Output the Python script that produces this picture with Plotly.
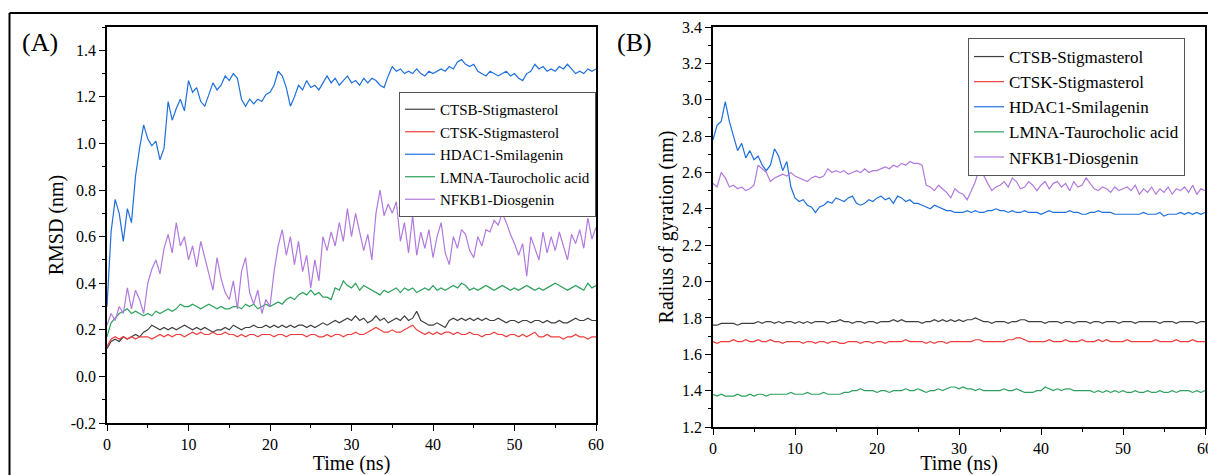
import numpy as np
import plotly.graph_objects as go

# time axis, 0.5 ns sampling
time_ns = np.arange(0, 60.5, 0.5)

names = ["CTSB-Stigmasterol", "CTSK-Stigmasterol", "HDAC1-Smilagenin",
         "LMNA-Taurocholic acid", "NFKB1-Diosgenin"]
colors = ["#3f3f3f", "#f03c3c", "#1f6fdc", "#2ca05c", "#b279de"]

# tick labels
rmsd_ticks = [-0.2, 0.0, 0.2, 0.4, 0.6, 0.8, 1.0, 1.2, 1.4]
rmsd_ticklabels = ["-0.2", "0.0", "0.2", "0.4", "0.6", "0.8", "1.0", "1.2", "1.4"]
time_ticks = [0, 10, 20, 30, 40, 50, 60]

# ---- RMSD (nm), panel A ----
ctsb_rmsd = [0.12, 0.15, 0.16, 0.15, 0.17, 0.16, 0.17, 0.18, 0.17, 0.19,
             0.20, 0.22, 0.21, 0.20, 0.21, 0.20, 0.21, 0.20, 0.21, 0.22,
             0.21, 0.20, 0.21, 0.20, 0.21, 0.20, 0.19, 0.20, 0.20, 0.21,
             0.20, 0.22, 0.21, 0.20, 0.21, 0.21, 0.22, 0.21, 0.21, 0.22,
             0.21, 0.22, 0.21, 0.22, 0.21, 0.22, 0.21, 0.22, 0.22, 0.21,
             0.22, 0.21, 0.22, 0.23, 0.22, 0.23, 0.24, 0.23, 0.24, 0.25,
             0.24, 0.26, 0.24, 0.25, 0.23, 0.24, 0.26, 0.24, 0.25, 0.23,
             0.24, 0.25, 0.24, 0.26, 0.24, 0.25, 0.28, 0.24, 0.23, 0.22,
             0.22, 0.23, 0.22, 0.21, 0.24, 0.25, 0.24, 0.25, 0.24, 0.25,
             0.24, 0.25, 0.24, 0.25, 0.24, 0.24, 0.25, 0.24, 0.23, 0.24,
             0.24, 0.23, 0.24, 0.24, 0.23, 0.24, 0.24, 0.23, 0.24, 0.23,
             0.23, 0.24, 0.23, 0.23, 0.24, 0.25, 0.24, 0.24, 0.25, 0.24,
             0.24]
ctsk_rmsd = [0.13, 0.16, 0.17, 0.16, 0.17, 0.16, 0.17, 0.16, 0.17, 0.17,
             0.17, 0.16, 0.17, 0.18, 0.17, 0.18, 0.17, 0.18, 0.18, 0.17,
             0.18, 0.19, 0.18, 0.19, 0.18, 0.18, 0.19, 0.18, 0.18, 0.19,
             0.18, 0.18, 0.17, 0.18, 0.17, 0.18, 0.18, 0.17, 0.18, 0.18,
             0.18, 0.17, 0.18, 0.18, 0.17, 0.18, 0.18, 0.18, 0.18, 0.17,
             0.18, 0.18, 0.17, 0.17, 0.18, 0.17, 0.18, 0.18, 0.17, 0.18,
             0.18, 0.19, 0.18, 0.18, 0.19, 0.20, 0.21, 0.20, 0.19, 0.19,
             0.20, 0.19, 0.19, 0.20, 0.21, 0.22, 0.20, 0.19, 0.18, 0.19,
             0.18, 0.19, 0.18, 0.19, 0.19, 0.18, 0.19, 0.18, 0.18, 0.19,
             0.18, 0.18, 0.17, 0.18, 0.18, 0.19, 0.18, 0.18, 0.17, 0.18,
             0.18, 0.17, 0.18, 0.17, 0.18, 0.19, 0.17, 0.17, 0.18, 0.17,
             0.17, 0.17, 0.16, 0.17, 0.17, 0.18, 0.17, 0.17, 0.16, 0.17,
             0.17]
hdac1_rmsd = [0.30, 0.62, 0.76, 0.70, 0.58, 0.72, 0.66, 0.86, 0.98, 1.08,
              1.02, 0.99, 1.01, 0.93, 0.98, 1.18, 1.10, 1.15, 1.19, 1.14,
              1.27, 1.22, 1.24, 1.18, 1.16, 1.21, 1.26, 1.23, 1.25, 1.29,
              1.27, 1.30, 1.28, 1.19, 1.16, 1.19, 1.17, 1.19, 1.18, 1.21,
              1.22, 1.25, 1.31, 1.29, 1.24, 1.16, 1.20, 1.25, 1.23, 1.27,
              1.24, 1.25, 1.23, 1.26, 1.29, 1.26, 1.28, 1.25, 1.27, 1.29,
              1.26, 1.27, 1.25, 1.28, 1.26, 1.28, 1.27, 1.25, 1.24, 1.29,
              1.33, 1.31, 1.32, 1.30, 1.31, 1.30, 1.32, 1.30, 1.29, 1.31,
              1.30, 1.31, 1.32, 1.31, 1.33, 1.32, 1.35, 1.36, 1.34, 1.33,
              1.34, 1.31, 1.30, 1.29, 1.31, 1.30, 1.29, 1.30, 1.31, 1.29,
              1.30, 1.28, 1.27, 1.30, 1.31, 1.34, 1.32, 1.33, 1.31, 1.32,
              1.31, 1.33, 1.32, 1.34, 1.32, 1.30, 1.31, 1.30, 1.32, 1.31,
              1.32]
lmna_rmsd = [0.17, 0.23, 0.25, 0.27, 0.28, 0.29, 0.27, 0.28, 0.27, 0.26,
             0.27, 0.26, 0.28, 0.27, 0.28, 0.29, 0.28, 0.29, 0.31, 0.30,
             0.30, 0.31, 0.30, 0.29, 0.30, 0.31, 0.30, 0.29, 0.30, 0.29,
             0.29, 0.30, 0.30, 0.29, 0.31, 0.30, 0.31, 0.29, 0.30, 0.31,
             0.30, 0.31, 0.32, 0.31, 0.33, 0.34, 0.33, 0.35, 0.36, 0.35,
             0.37, 0.35, 0.36, 0.34, 0.34, 0.33, 0.38, 0.37, 0.41, 0.39,
             0.38, 0.40, 0.37, 0.39, 0.38, 0.37, 0.36, 0.35, 0.37, 0.36,
             0.37, 0.38, 0.36, 0.38, 0.37, 0.38, 0.36, 0.37, 0.38, 0.37,
             0.39, 0.37, 0.38, 0.37, 0.38, 0.39, 0.38, 0.40, 0.39, 0.37,
             0.38, 0.37, 0.38, 0.39, 0.38, 0.37, 0.38, 0.39, 0.38, 0.37,
             0.38, 0.37, 0.38, 0.39, 0.38, 0.37, 0.38, 0.37, 0.38, 0.39,
             0.40, 0.39, 0.38, 0.37, 0.38, 0.39, 0.38, 0.37, 0.40, 0.38,
             0.39]
nfkb1_rmsd = [0.22, 0.27, 0.24, 0.30, 0.27, 0.38, 0.29, 0.37, 0.33, 0.27,
              0.40, 0.46, 0.50, 0.44, 0.55, 0.61, 0.53, 0.66, 0.56, 0.60,
              0.50, 0.56, 0.47, 0.58, 0.51, 0.44, 0.37, 0.51, 0.42, 0.36,
              0.33, 0.41, 0.29, 0.45, 0.51, 0.36, 0.31, 0.37, 0.27, 0.33,
              0.30, 0.45, 0.56, 0.63, 0.52, 0.60, 0.48, 0.58, 0.45, 0.52,
              0.38, 0.50, 0.41, 0.60, 0.54, 0.62, 0.56, 0.66, 0.58, 0.72,
              0.60, 0.70, 0.62, 0.54, 0.61, 0.50, 0.70, 0.80, 0.69, 0.74,
              0.70, 0.75, 0.58, 0.66, 0.53, 0.69, 0.52, 0.62, 0.55, 0.63,
              0.51, 0.60, 0.66, 0.53, 0.48, 0.60, 0.55, 0.63, 0.61, 0.54,
              0.51, 0.60, 0.56, 0.63, 0.62, 0.67, 0.65, 0.70, 0.66, 0.61,
              0.57, 0.52, 0.57, 0.43, 0.60, 0.55, 0.50, 0.62, 0.53, 0.60,
              0.54, 0.62, 0.56, 0.50, 0.61, 0.57, 0.63, 0.55, 0.68, 0.59,
              0.64]

# ---- Radius of gyration (nm), panel B ----
ctsb_rg = [1.76, 1.76, 1.77, 1.77, 1.77, 1.77, 1.76, 1.77, 1.77, 1.77,
           1.77, 1.78, 1.77, 1.78, 1.78, 1.77, 1.78, 1.77, 1.78, 1.78,
           1.77, 1.78, 1.77, 1.78, 1.77, 1.78, 1.78, 1.78, 1.77, 1.78,
           1.78, 1.79, 1.78, 1.78, 1.77, 1.78, 1.78, 1.77, 1.78, 1.78,
           1.77, 1.78, 1.78, 1.78, 1.79, 1.78, 1.79, 1.78, 1.78, 1.78,
           1.78, 1.77, 1.78, 1.78, 1.79, 1.78, 1.79, 1.78, 1.79, 1.78,
           1.79, 1.78, 1.79, 1.79, 1.80, 1.79, 1.78, 1.78, 1.77, 1.78,
           1.78, 1.78, 1.77, 1.78, 1.78, 1.79, 1.79, 1.78, 1.78, 1.78,
           1.78, 1.77, 1.78, 1.78, 1.78, 1.77, 1.78, 1.78, 1.77, 1.78,
           1.78, 1.78, 1.77, 1.78, 1.78, 1.77, 1.78, 1.78, 1.78, 1.77,
           1.78, 1.78, 1.78, 1.77, 1.78, 1.78, 1.78, 1.78, 1.78, 1.77,
           1.78, 1.78, 1.78, 1.77, 1.78, 1.78, 1.78, 1.78, 1.77, 1.78,
           1.78]
ctsk_rg = [1.67, 1.66, 1.67, 1.67, 1.67, 1.68, 1.67, 1.67, 1.68, 1.67,
           1.67, 1.68, 1.67, 1.67, 1.68, 1.67, 1.67, 1.66, 1.67, 1.67,
           1.67, 1.67, 1.66, 1.67, 1.67, 1.66, 1.67, 1.67, 1.66, 1.67,
           1.67, 1.66, 1.66, 1.67, 1.67, 1.67, 1.66, 1.67, 1.67, 1.66,
           1.67, 1.67, 1.66, 1.67, 1.67, 1.67, 1.67, 1.68, 1.67, 1.67,
           1.67, 1.67, 1.66, 1.67, 1.66, 1.67, 1.67, 1.66, 1.67, 1.67,
           1.67, 1.67, 1.67, 1.67, 1.68, 1.68, 1.67, 1.67, 1.67, 1.67,
           1.67, 1.67, 1.68, 1.68, 1.69, 1.69, 1.68, 1.67, 1.67, 1.67,
           1.67, 1.67, 1.68, 1.67, 1.67, 1.67, 1.68, 1.67, 1.67, 1.67,
           1.68, 1.67, 1.67, 1.67, 1.68, 1.67, 1.68, 1.67, 1.67, 1.67,
           1.67, 1.68, 1.67, 1.67, 1.67, 1.67, 1.67, 1.67, 1.68, 1.67,
           1.67, 1.67, 1.67, 1.68, 1.67, 1.67, 1.67, 1.68, 1.67, 1.67,
           1.67]
hdac1_rg = [2.78, 2.86, 2.88, 2.99, 2.88, 2.80, 2.72, 2.76, 2.68, 2.72,
            2.67, 2.69, 2.64, 2.61, 2.64, 2.73, 2.69, 2.61, 2.66, 2.52,
            2.46, 2.44, 2.45, 2.42, 2.41, 2.38, 2.41, 2.42, 2.44, 2.43,
            2.46, 2.45, 2.44, 2.46, 2.47, 2.43, 2.42, 2.43, 2.45, 2.44,
            2.46, 2.47, 2.45, 2.46, 2.43, 2.47, 2.46, 2.44, 2.45, 2.43,
            2.43, 2.42, 2.41, 2.40, 2.42, 2.41, 2.40, 2.39, 2.39, 2.38,
            2.38, 2.38, 2.39, 2.38, 2.39, 2.38, 2.38, 2.39, 2.39, 2.40,
            2.39, 2.39, 2.38, 2.39, 2.38, 2.38, 2.39, 2.38, 2.38, 2.38,
            2.37, 2.38, 2.39, 2.38, 2.38, 2.38, 2.38, 2.39, 2.38, 2.38,
            2.37, 2.37, 2.38, 2.38, 2.39, 2.38, 2.38, 2.38, 2.37, 2.37,
            2.37, 2.37, 2.37, 2.37, 2.37, 2.38, 2.37, 2.37, 2.37, 2.38,
            2.36, 2.37, 2.37, 2.37, 2.38, 2.37, 2.38, 2.37, 2.38, 2.37,
            2.38]
lmna_rg = [1.38, 1.37, 1.38, 1.37, 1.37, 1.37, 1.38, 1.37, 1.37, 1.38,
           1.37, 1.38, 1.38, 1.37, 1.38, 1.38, 1.38, 1.38, 1.38, 1.39,
           1.38, 1.38, 1.38, 1.39, 1.38, 1.38, 1.38, 1.39, 1.38, 1.38,
           1.38, 1.38, 1.39, 1.39, 1.40, 1.40, 1.41, 1.40, 1.40, 1.40,
           1.39, 1.40, 1.40, 1.39, 1.40, 1.40, 1.40, 1.41, 1.40, 1.40,
           1.41, 1.40, 1.39, 1.40, 1.40, 1.41, 1.40, 1.41, 1.42, 1.42,
           1.41, 1.42, 1.41, 1.41, 1.40, 1.41, 1.40, 1.40, 1.40, 1.40,
           1.40, 1.41, 1.40, 1.40, 1.41, 1.40, 1.39, 1.39, 1.39, 1.40,
           1.40, 1.42, 1.41, 1.40, 1.41, 1.40, 1.41, 1.41, 1.40, 1.40,
           1.40, 1.40, 1.40, 1.39, 1.40, 1.39, 1.40, 1.39, 1.40, 1.39,
           1.40, 1.39, 1.39, 1.40, 1.39, 1.39, 1.40, 1.39, 1.39, 1.40,
           1.39, 1.39, 1.40, 1.39, 1.40, 1.40, 1.40, 1.39, 1.40, 1.39,
           1.40]
nfkb1_rg = [2.54, 2.52, 2.60, 2.57, 2.52, 2.53, 2.51, 2.52, 2.50, 2.51,
            2.53, 2.64, 2.62, 2.60, 2.55, 2.57, 2.58, 2.59, 2.58, 2.60,
            2.58, 2.57, 2.56, 2.55, 2.57, 2.58, 2.57, 2.58, 2.62, 2.60,
            2.61, 2.60, 2.61, 2.59, 2.60, 2.61, 2.60, 2.62, 2.60, 2.61,
            2.61, 2.62, 2.63, 2.62, 2.64, 2.63, 2.65, 2.64, 2.66, 2.65,
            2.65, 2.64, 2.53, 2.52, 2.50, 2.53, 2.51, 2.49, 2.46, 2.51,
            2.49, 2.48, 2.45, 2.50, 2.55, 2.63, 2.58, 2.54, 2.50, 2.52,
            2.53, 2.55, 2.52, 2.57, 2.55, 2.51, 2.52, 2.55, 2.53, 2.50,
            2.53, 2.55, 2.51, 2.54, 2.55, 2.52, 2.54, 2.50, 2.55, 2.52,
            2.53, 2.57, 2.54, 2.51, 2.50, 2.52, 2.51, 2.49, 2.52, 2.50,
            2.51, 2.52, 2.50, 2.53, 2.48, 2.51, 2.49, 2.52, 2.48, 2.51,
            2.49, 2.52, 2.48, 2.51, 2.50, 2.52, 2.49, 2.53, 2.48, 2.51,
            2.50]

rmsd_series = [ctsb_rmsd, ctsk_rmsd, hdac1_rmsd, lmna_rmsd, nfkb1_rmsd]
rg_series = [ctsb_rg, ctsk_rg, hdac1_rg, lmna_rg, nfkb1_rg]

FONT = "Liberation Serif"
# the page body adds an 8 px margin, so the figure fills the rest of the window
OFF = 8
W, H = 1216 - OFF, 475 - OFF


def px(x):
    return (x - OFF) / W


def py(y):
    return 1 - (y - OFF) / H


fig = go.Figure()

for name, color, ys in zip(names, colors, rmsd_series):
    fig.add_trace(go.Scatter(x=time_ns, y=ys, mode="lines", name=name,
                             line=dict(color=color, width=1.2),
                             xaxis="x", yaxis="y", legend="legend"))

for name, color, ys in zip(names, colors, rg_series):
    fig.add_trace(go.Scatter(x=time_ns, y=ys, mode="lines", name=name,
                             line=dict(color=color, width=1.2),
                             xaxis="x2", yaxis="y2", legend="legend2"))


def axis(**kw):
    d = dict(showline=True, linecolor="black", linewidth=1.5, mirror=True,
             ticks="outside", ticklen=6, tickwidth=1.2, tickcolor="black",
             showgrid=False, zeroline=False,
             tickfont=dict(family=FONT, size=16, color="black"))
    d.update(kw)
    return d


minor_x = dict(ticks="outside", ticklen=3, tickwidth=1, tickcolor="black", dtick=5)
minor_y = dict(ticks="outside", ticklen=3, tickwidth=1, tickcolor="black", dtick=0.1)
title_font = dict(family=FONT, size=20, color="black")

fig.update_layout(
    width=W, height=H,
    margin=dict(l=0, r=0, t=0, b=0, autoexpand=False),
    plot_bgcolor="white", paper_bgcolor="white",
    font=dict(family=FONT, color="black"),
    xaxis=axis(domain=[px(107), px(596)], range=[0, 60], tickvals=time_ticks,
               minor=minor_x, anchor="y",
               title=dict(text="Time (ns)", font=title_font, standoff=3)),
    yaxis=axis(domain=[py(423), py(27)], range=[-0.2, 1.5],
               tickvals=rmsd_ticks, ticktext=rmsd_ticklabels,
               minor=minor_y, anchor="x",
               title=dict(text="RMSD (nm)", font=title_font, standoff=2)),
    xaxis2=axis(domain=[px(713), px(1205)], range=[0, 60], tickvals=time_ticks,
                minor=minor_x, anchor="y2",
                title=dict(text="Time (ns)", font=title_font, standoff=4)),
    yaxis2=axis(domain=[py(427), py(27)], range=[1.2, 3.4], tick0=1.2, dtick=0.2,
                tickformat=".1f", minor=minor_y, anchor="x2",
                title=dict(text="Radius of gyration (nm)", font=title_font, standoff=3)),
    legend=dict(x=px(399), y=py(92), xanchor="left", yanchor="top",
                bordercolor="#555555", borderwidth=1, bgcolor="white",
                font=dict(family=FONT, size=15), tracegroupgap=0,
                itemwidth=30),
    legend2=dict(x=px(968), y=py(38), xanchor="left", yanchor="top",
                 bordercolor="#555555", borderwidth=1, bgcolor="white",
                 font=dict(family=FONT, size=17), tracegroupgap=0,
                 itemwidth=30),
    showlegend=True,
)

# panel labels
fig.add_annotation(text="(A)", x=px(40), y=py(42), xref="paper", yref="paper",
                   xanchor="center", yanchor="middle",
                   showarrow=False, font=dict(family=FONT, size=26))
fig.add_annotation(text="(B)", x=px(634), y=py(42), xref="paper", yref="paper",
                   xanchor="center", yanchor="middle",
                   showarrow=False, font=dict(family=FONT, size=26))

# outer frame (top and left edges)
fig.add_shape(type="line", xref="paper", yref="paper",
              x0=px(9.5), x1=1, y0=py(13), y1=py(13),
              line=dict(color="black", width=2))
fig.add_shape(type="line", xref="paper", yref="paper",
              x0=px(9.5), x1=px(9.5), y0=0, y1=py(13),
              line=dict(color="black", width=2))

fig.write_html("out.html")
